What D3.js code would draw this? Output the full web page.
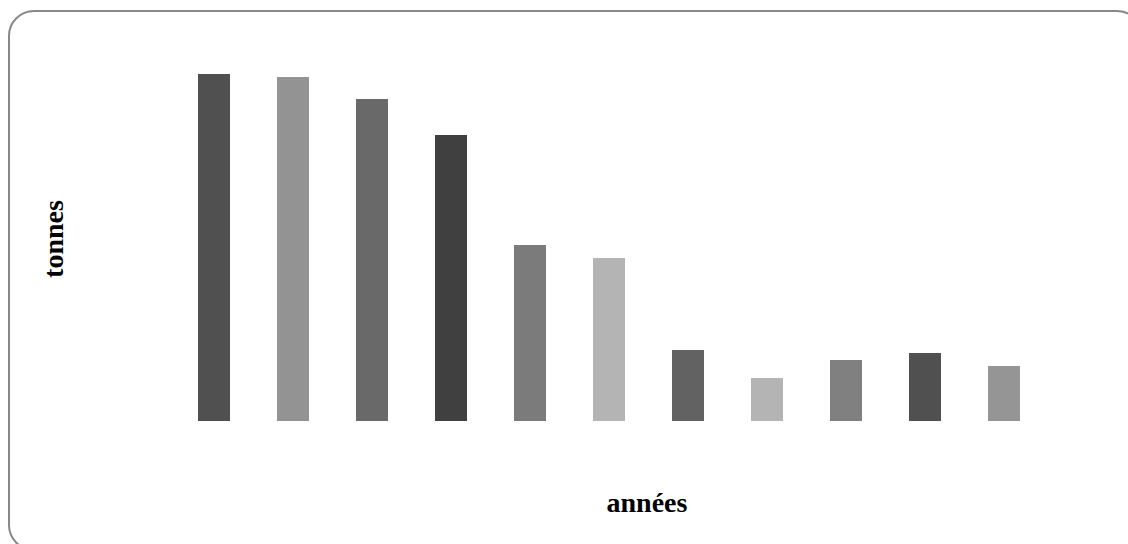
<!DOCTYPE html>
<html>
<head>
<meta charset="utf-8">
<script src="https://cdn.jsdelivr.net/npm/d3@7"></script>
<style>
  html, body { margin: 0; padding: 0; background: #fff; }
  svg { display: block; }
</style>
</head>
<body>
<div id="chart"></div>
<script>
// Tonnage per year (eleven yearly bars, no tick labels shown)
const categories = ["1", "2", "3", "4", "5", "6", "7", "8", "9", "10", "11"];
const values = [347, 344, 322, 286, 176, 163, 71, 43, 61, 68, 55];
const barColors = ["#505050", "#939393", "#696969", "#404040", "#7b7b7b", "#b4b4b4",
                   "#626262", "#b4b4b4", "#808080", "#505050", "#959595"];
const xTitle = "années";
const yTitle = "tonnes";

const W = 1128, H = 544;
const svg = d3.select("#chart").append("svg")
  .attr("width", W).attr("height", H);

// rounded frame around the chart area
svg.append("rect")
  .attr("x", 9).attr("y", 11)
  .attr("width", 1133).attr("height", 539)
  .attr("rx", 25).attr("ry", 25)
  .attr("fill", "#fff")
  .attr("stroke", "#898989")
  .attr("stroke-width", 2);

const x = d3.scaleBand()
  .domain(categories)
  .range([151, 1067])
  .padding(47 / 79);

const y = d3.scaleLinear()
  .domain([0, 350])
  .range([421, 71]);

svg.append("g").selectAll("rect")
  .data(values)
  .join("rect")
  .attr("x", (d, i) => x(categories[i]))
  .attr("width", x.bandwidth())
  .attr("y", d => y(d))
  .attr("height", d => y(0) - y(d))
  .attr("fill", (d, i) => barColors[i]);

const font = "'Liberation Serif', 'Times New Roman', serif";

svg.append("text")
  .attr("x", 647).attr("y", 512)
  .attr("text-anchor", "middle")
  .attr("font-family", font)
  .attr("font-weight", "bold")
  .attr("font-size", 28)
  .attr("fill", "#000")
  .text(xTitle);

svg.append("text")
  .attr("transform", "translate(63,239) rotate(-90)")
  .attr("text-anchor", "middle")
  .attr("font-family", font)
  .attr("font-weight", "bold")
  .attr("font-size", 28)
  .attr("fill", "#000")
  .text(yTitle);
</script>
</body>
</html>
